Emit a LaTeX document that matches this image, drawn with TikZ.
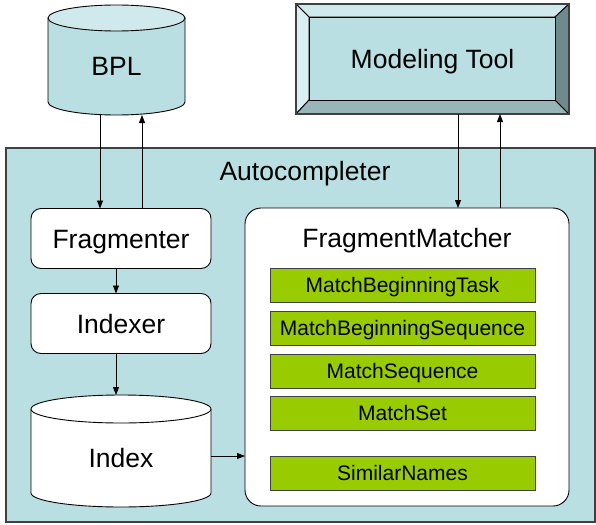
\documentclass[tikz,border=0pt]{standalone}
\usepackage{fontspec}
\setmainfont{Liberation Sans}
\usetikzlibrary{arrows.meta}
\definecolor{tealbg}{HTML}{BADFE3}
\definecolor{teallt}{HTML}{CFE9EC}
\definecolor{tealvl}{HTML}{DAEFF1}
\definecolor{tealdk}{HTML}{98B5B8}
\definecolor{tealxd}{HTML}{6F8A8C}
\definecolor{greenbx}{HTML}{99CC00}
\definecolor{edgegray}{HTML}{404040}
\begin{document}
\begin{tikzpicture}[x=1pt,y=-1pt,
  bigtext/.style={font=\fontsize{26.5}{30}\selectfont, text height=19pt, text depth=0pt},
  smalltext/.style={font=\fontsize{21}{25}\selectfont, text height=15pt, text depth=0pt},
  rbox/.style={draw=black, fill=white, line width=0.9pt, rounded corners=10pt, inner sep=0pt, outer sep=0pt, minimum width=180pt, minimum height=60pt, bigtext},
  gbox/.style={draw=edgegray, fill=greenbx, line width=0.9pt, inner sep=0pt, outer sep=0pt, minimum width=265pt, minimum height=34pt, smalltext},
  arr/.style={-{Triangle[length=8pt,width=6pt]}, line width=0.8pt, draw=black},
  cyl/.style={draw=black, line width=0.9pt}
]
\useasboundingbox (0,0) rectangle (596,524);
% outer Autocompleter box
\node[draw=edgegray, fill=tealbg, line width=1.3pt, inner sep=0pt, outer sep=0pt,
      minimum width=589pt, minimum height=374pt] (ac) at (300.5,335) {};
\node[bigtext, inner sep=0pt] (actitle) at (305,170.5) {Autocompleter};

% BPL cylinder
\draw[cyl, fill=tealbg] (48,18) -- (48,102) arc[start angle=180, end angle=0, x radius=68.5, y radius=13] -- (185,18);
\draw[cyl, fill=teallt] (116.5,18) ellipse[x radius=68.5, y radius=13];
\node[inner sep=0pt, outer sep=0pt, minimum width=137pt, minimum height=110pt] (bpl) at (116.5,60) {};
\node[bigtext, inner sep=0pt] (bpltext) at (116.5,66) {BPL};

% Index cylinder
\draw[cyl, fill=white] (31,409) -- (31,493) arc[start angle=180, end angle=0, x radius=90, y radius=14] -- (211,409);
\draw[cyl, fill=white] (121,409) ellipse[x radius=90, y radius=14];
\node[inner sep=0pt, outer sep=0pt, minimum width=180pt, minimum height=112pt] (index) at (121,451) {};
\node[bigtext, inner sep=0pt] (indextext) at (121,458) {Index};

% Modeling Tool bevel box
\node[inner sep=0pt, outer sep=0pt, minimum width=273pt, minimum height=110pt] (mt) at (432.5,59) {};
\draw[cyl, fill=teallt] (296,4) -- (569,4) -- (555,17) -- (309,17) -- cycle;
\draw[cyl, fill=tealvl] (296,4) -- (309,17) -- (309,100) -- (296,114) -- cycle;
\draw[cyl, fill=tealdk] (296,114) -- (309,100) -- (555,100) -- (569,114) -- cycle;
\draw[cyl, fill=tealxd] (569,4) -- (569,114) -- (555,100) -- (555,17) -- cycle;
\draw[cyl, fill=tealbg] (309,17) rectangle (555,100);
\draw[draw=edgegray, line width=1.3pt] (296,4) rectangle (569,114);
\node[bigtext, inner sep=0pt] (mttext) at (432.5,59.5) {Modeling Tool};

% left column
\node[rbox] (frag) at (121,238.5) {Fragmenter};
\node[rbox] (idx) at (121,323.5) {Indexer};

% FragmentMatcher
\node[draw=black, fill=white, line width=0.9pt, rounded corners=16pt, inner sep=0pt, outer sep=0pt,
      minimum width=324pt, minimum height=298pt] (fm) at (407,357) {};
\node[bigtext, inner sep=0pt] (fmtitle) at (407,237.5) {FragmentMatcher};
\node[gbox] (g1) at (402.5,285) {MatchBeginningTask};
\node[gbox] (g2) at (402.5,328) {MatchBeginningSequence};
\node[gbox] (g3) at (402.5,371) {MatchSequence};
\node[gbox] (g4) at (402.5,413) {MatchSet};
\node[gbox] (g5) at (402.5,473) {SimilarNames};

% connectors
\draw[arr] (bpl.south -| 100,0) -- (frag.north -| 100,0);
\draw[arr] (frag.north -| 142,0) -- (bpl.south -| 142,0);
\draw[arr] (frag.south -| 116,0) -- (idx.north -| 116,0);
\draw[arr] (idx.south -| 116,0) -- (index.north -| 116,0);
\draw[arr] (index.east |- 0,456) -- (fm.west |- 0,456);
\draw[arr] (mt.south -| 458,0) -- (fm.north -| 458,0);
\draw[arr] (fm.north -| 500,0) -- (mt.south -| 500,0);
\end{tikzpicture}
\end{document}
